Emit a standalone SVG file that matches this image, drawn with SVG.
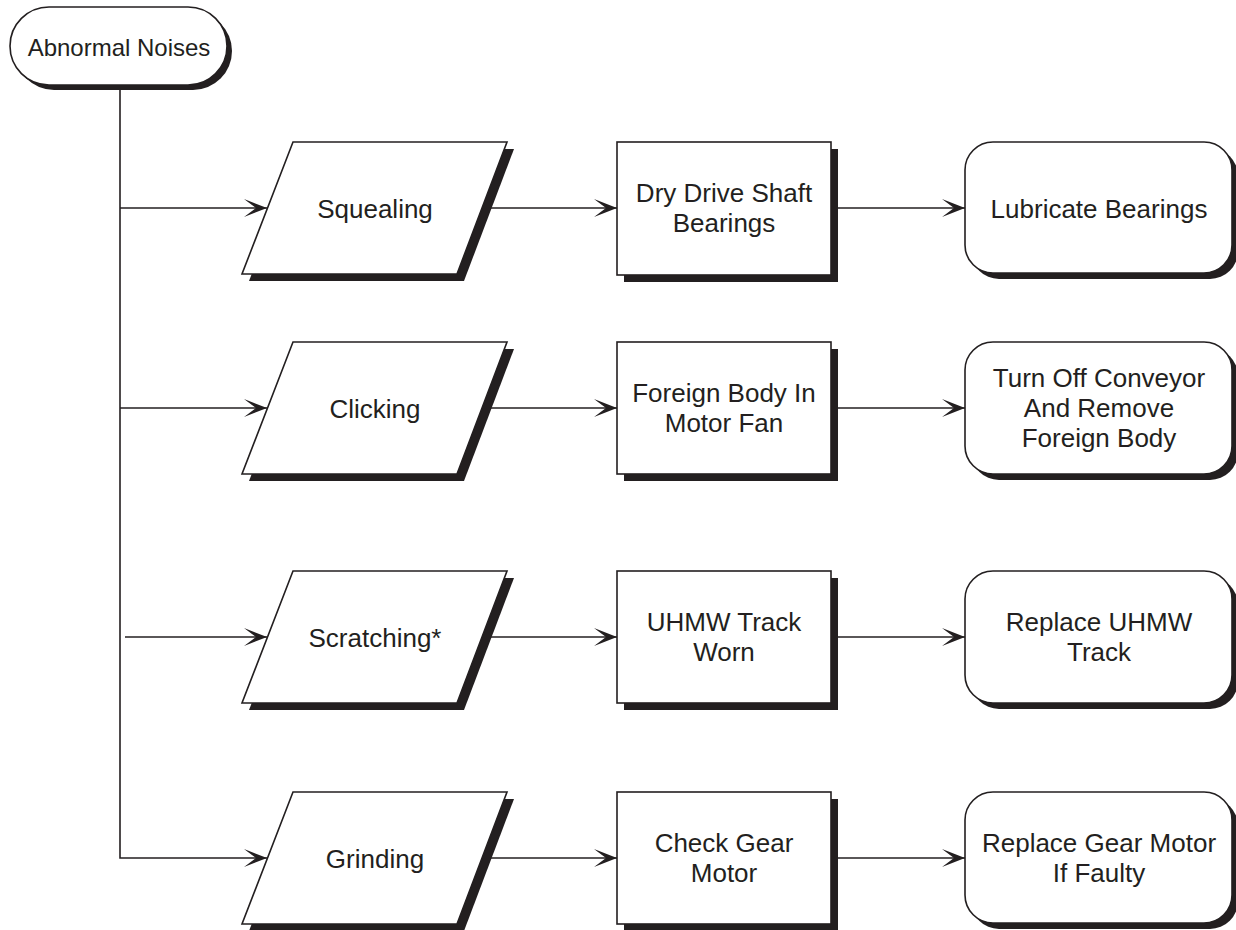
<svg xmlns="http://www.w3.org/2000/svg" width="1236" height="930" viewBox="0 0 1236 930">
<style>
.shape{fill:#fff;stroke:#231f20;stroke-width:1.6}
.shadow{fill:#231f20;stroke:none}
.t{font-family:"Liberation Sans",Arial,sans-serif;font-size:26px;fill:#231f20;text-anchor:middle}
.st{font-size:24px}
.conn{fill:none;stroke:#231f20;stroke-width:1.6}
</style>
<defs>
<marker id="arr" markerUnits="userSpaceOnUse" markerWidth="26" markerHeight="22" viewBox="-24 -11 26 22" refX="0" refY="0" orient="auto">
<path d="M0,0 L-23,-9 L-11,0 L-23,9 Z" fill="#231f20"/>
</marker>
<path id="para" d="M51,0 H265 L215,132 H0 Z"/>
</defs>
<rect width="1236" height="930" fill="#fff"/>
<g id="connectors">
<path class="conn" d="M120,85 V858 H267" marker-end="url(#arr)"/>
<path class="conn" d="M120,208 H267" marker-end="url(#arr)"/>
<path class="conn" d="M120,408 H267" marker-end="url(#arr)"/>
<path class="conn" d="M125,637 H267" marker-end="url(#arr)"/>
<path class="conn" d="M482,208 H617" marker-end="url(#arr)"/>
<path class="conn" d="M482,408 H617" marker-end="url(#arr)"/>
<path class="conn" d="M482,637 H617" marker-end="url(#arr)"/>
<path class="conn" d="M482,858 H617" marker-end="url(#arr)"/>
<path class="conn" d="M831,208 H965" marker-end="url(#arr)"/>
<path class="conn" d="M831,408 H965" marker-end="url(#arr)"/>
<path class="conn" d="M831,637 H965" marker-end="url(#arr)"/>
<path class="conn" d="M831,858 H965" marker-end="url(#arr)"/>
</g>
<g id="start">
<rect class="shadow" x="15" y="12" width="217" height="78" rx="39"/>
<rect class="shape" x="10" y="7" width="217" height="78" rx="39"/>
<text class="t st" x="119" y="56">Abnormal Noises</text>
</g>
<g id="squealing">
<use href="#para" class="shadow" x="249" y="149"/>
<use href="#para" class="shape" x="242" y="142"/>
<text class="t" x="375" y="218">Squealing</text>
</g>
<g id="dry-drive">
<rect class="shadow" x="624" y="149" width="214" height="133"/>
<rect class="shape" x="617" y="142" width="214" height="133"/>
<text class="t" x="724" y="202">Dry Drive Shaft</text>
<text class="t" x="724" y="232">Bearings</text>
</g>
<g id="lubricate">
<rect class="shadow" x="971" y="148" width="267" height="131" rx="28"/>
<rect class="shape" x="965" y="142" width="267" height="131" rx="28"/>
<text class="t" x="1099" y="218">Lubricate Bearings</text>
</g>
<g id="clicking">
<use href="#para" class="shadow" x="249" y="349"/>
<use href="#para" class="shape" x="242" y="342"/>
<text class="t" x="375" y="418">Clicking</text>
</g>
<g id="foreign-body">
<rect class="shadow" x="624" y="349" width="214" height="132"/>
<rect class="shape" x="617" y="342" width="214" height="132"/>
<text class="t" x="724" y="402">Foreign Body In</text>
<text class="t" x="724" y="432">Motor Fan</text>
</g>
<g id="turn-off">
<rect class="shadow" x="971" y="348" width="267" height="132" rx="28"/>
<rect class="shape" x="965" y="342" width="267" height="132" rx="28"/>
<text class="t" x="1099" y="387">Turn Off Conveyor</text>
<text class="t" x="1099" y="417">And Remove</text>
<text class="t" x="1099" y="447">Foreign Body</text>
</g>
<g id="scratching">
<use href="#para" class="shadow" x="249" y="578"/>
<use href="#para" class="shape" x="242" y="571"/>
<text class="t" x="375" y="647">Scratching*</text>
</g>
<g id="uhmw-worn">
<rect class="shadow" x="624" y="578" width="214" height="132"/>
<rect class="shape" x="617" y="571" width="214" height="132"/>
<text class="t" x="724" y="631">UHMW Track</text>
<text class="t" x="724" y="661">Worn</text>
</g>
<g id="replace-uhmw">
<rect class="shadow" x="971" y="577" width="267" height="132" rx="28"/>
<rect class="shape" x="965" y="571" width="267" height="132" rx="28"/>
<text class="t" x="1099" y="631">Replace UHMW</text>
<text class="t" x="1099" y="661">Track</text>
</g>
<g id="grinding">
<use href="#para" class="shadow" x="249" y="799"/>
<use href="#para" class="shape" x="242" y="792"/>
<text class="t" x="375" y="868">Grinding</text>
</g>
<g id="check-gear">
<rect class="shadow" x="624" y="799" width="214" height="132"/>
<rect class="shape" x="617" y="792" width="214" height="132"/>
<text class="t" x="724" y="852">Check Gear</text>
<text class="t" x="724" y="882">Motor</text>
</g>
<g id="replace-gear">
<rect class="shadow" x="971" y="798" width="267" height="131" rx="28"/>
<rect class="shape" x="965" y="792" width="267" height="131" rx="28"/>
<text class="t" x="1099" y="852">Replace Gear Motor</text>
<text class="t" x="1099" y="882">If Faulty</text>
</g>
</svg>
